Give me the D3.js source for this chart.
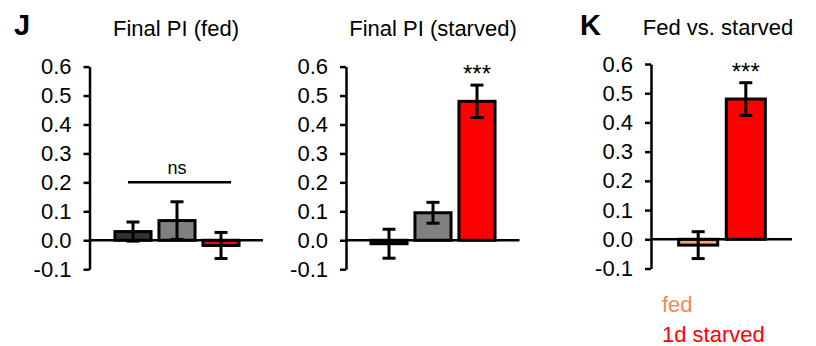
<!DOCTYPE html>
<html lang="en">
<head>
    <meta charset="UTF-8">
    <title>Final PI fed vs starved</title>
    <script src="https://d3js.org/d3.v7.min.js"></script>
    <style>
        body { margin: 0; background: #fff; }
        svg text { font-family: "Liberation Sans", Arial, sans-serif; fill: #000; }
    </style>
</head>
<body>
    <svg id="chart" width="816" height="346"></svg>

    <script>
        // data
        const groupCats = ['g1', 'g2', 'g3'];
        const fedMeans = [0.03, 0.068, -0.018];
        const fedSem = [0.033, 0.065, 0.045];
        const starvedMeans = [-0.012, 0.095, 0.48];
        const starvedSem = [0.05, 0.036, 0.056];
        const groupColors = ['#333333', '#808080', '#ff0000'];

        const compCats = ['fed', '1d starved'];
        const compMeans = [-0.02, 0.48];
        const compSem = [0.046, 0.056];
        const compColors = ['#f4a46e', '#ff0000'];
        const legendColors = ['#f08c4c', '#ff0000'];

        const yTicks = [-0.1, 0.0, 0.1, 0.2, 0.3, 0.4, 0.5, 0.6];
        const yTickLabels = ['-0.1', '0.0', '0.1', '0.2', '0.3', '0.4', '0.5', '0.6'];

        const svg = d3.select('#chart');

        // draws one bar panel
        function panel(opt) {
            const g = svg.append('g');

            const y = d3.scaleLinear()
                .domain([-0.1, 0.6])
                .range([opt.bottom, opt.top]);

            const x = d3.scaleBand()
                .domain(opt.cats)
                .range(opt.band)
                .paddingInner(0.18)
                .paddingOuter(opt.outer);

            const rows = opt.cats.map((c, i) => ({ c, v: opt.means[i], e: opt.sem[i], col: opt.colors[i] }));

            // bars
            g.selectAll('rect.bar')
                .data(rows)
                .join('rect')
                .attr('class', 'bar')
                .attr('x', d => x(d.c))
                .attr('y', d => y(Math.max(d.v, 0)))
                .attr('width', x.bandwidth())
                .attr('height', d => Math.abs(y(d.v) - y(0)))
                .attr('fill', d => d.col)
                .attr('stroke', '#000')
                .attr('stroke-width', 3);

            // x axis line at zero
            g.append('line')
                .attr('x1', opt.axisX)
                .attr('x2', opt.axisEnd)
                .attr('y1', y(0))
                .attr('y2', y(0))
                .attr('stroke', '#000')
                .attr('stroke-width', 2.5);

            // error bars
            const eb = g.selectAll('g.err')
                .data(rows)
                .join('g')
                .attr('class', 'err')
                .attr('stroke', '#000')
                .attr('stroke-width', 3);
            const cx = d => x(d.c) + x.bandwidth() / 2;
            eb.append('line')
                .attr('x1', cx).attr('x2', cx)
                .attr('y1', d => y(d.v + d.e))
                .attr('y2', d => y(d.v - d.e));
            eb.append('line')
                .attr('x1', d => cx(d) - 6.5).attr('x2', d => cx(d) + 6.5)
                .attr('y1', d => y(d.v + d.e)).attr('y2', d => y(d.v + d.e));
            eb.append('line')
                .attr('x1', d => cx(d) - 6.5).attr('x2', d => cx(d) + 6.5)
                .attr('y1', d => y(d.v - d.e)).attr('y2', d => y(d.v - d.e));

            // y axis
            const yAxis = g.append('g')
                .attr('transform', `translate(${opt.axisX},0)`)
                .call(d3.axisLeft(y)
                    .tickValues(yTicks)
                    .tickFormat((d, i) => yTickLabels[i])
                    .tickSize(6)
                    .tickSizeOuter(0)
                    .tickPadding(12));
            yAxis.select('.domain').attr('stroke-width', 2.5);
            yAxis.selectAll('.tick line').attr('stroke-width', 2.5);
            yAxis.selectAll('.tick text')
                .attr('font-size', 22)
                .attr('font-family', '"Liberation Sans", Arial, sans-serif');

            // title
            g.append('text')
                .attr('x', opt.titleX)
                .attr('y', opt.titleY)
                .attr('text-anchor', 'middle')
                .attr('font-size', 22)
                .text(opt.title);

            return { x, y, g, rows };
        }

        const pJ = panel({
            cats: groupCats, means: fedMeans, sem: fedSem, colors: groupColors,
            top: 66.6, bottom: 269.2, band: [111, 243], outer: 0.09,
            axisX: 89.5, axisEnd: 263, title: 'Final PI (fed)', titleX: 176, titleY: 36
        });

        const pS = panel({
            cats: groupCats, means: starvedMeans, sem: starvedSem, colors: groupColors,
            top: 66.6, bottom: 269.2, band: [367, 499], outer: 0.09,
            axisX: 346, axisEnd: 519.5, title: 'Final PI (starved)', titleX: 433, titleY: 36
        });

        const pK = panel({
            cats: compCats, means: compMeans, sem: compSem, colors: compColors,
            top: 64, bottom: 268.5, band: [672, 772], outer: 0.14,
            axisX: 651, axisEnd: 792, title: 'Fed vs. starved', titleX: 718, titleY: 35
        });

        // ns bracket on the fed panel
        pJ.g.append('line')
            .attr('x1', pJ.x('g1') + 13).attr('x2', pJ.x('g3') + pJ.x.bandwidth() - 8)
            .attr('y1', pJ.y(0.2)).attr('y2', pJ.y(0.2))
            .attr('stroke', '#000').attr('stroke-width', 2.5);
        pJ.g.append('text')
            .attr('x', pJ.x('g2') + pJ.x.bandwidth() / 2)
            .attr('y', pJ.y(0.2) - 8)
            .attr('text-anchor', 'middle')
            .attr('font-size', 18)
            .text('ns');

        // significance stars
        [[pS, 'g3', 2], [pK, '1d starved', 1]].forEach(([p, c, i]) => {
            const r = p.rows[i];
            p.g.append('text')
                .attr('x', p.x(c) + p.x.bandwidth() / 2)
                .attr('y', p.y(r.v + r.e) - 3)
                .attr('text-anchor', 'middle')
                .attr('font-size', 24)
                .text('***');
        });

        // panel letters
        svg.append('text').attr('x', 14).attr('y', 35)
            .attr('font-size', 29).attr('font-weight', 'bold').text('J');
        svg.append('text').attr('x', 580).attr('y', 35)
            .attr('font-size', 29).attr('font-weight', 'bold').text('K');

        // legend under panel K
        svg.selectAll('text.legend')
            .data(compCats)
            .join('text')
            .attr('class', 'legend')
            .attr('x', 662)
            .attr('y', (d, i) => 312 + i * 30)
            .attr('font-size', 22)
            .style('fill', (d, i) => legendColors[i])
            .text(d => d);
    </script>
</body>
</html>
